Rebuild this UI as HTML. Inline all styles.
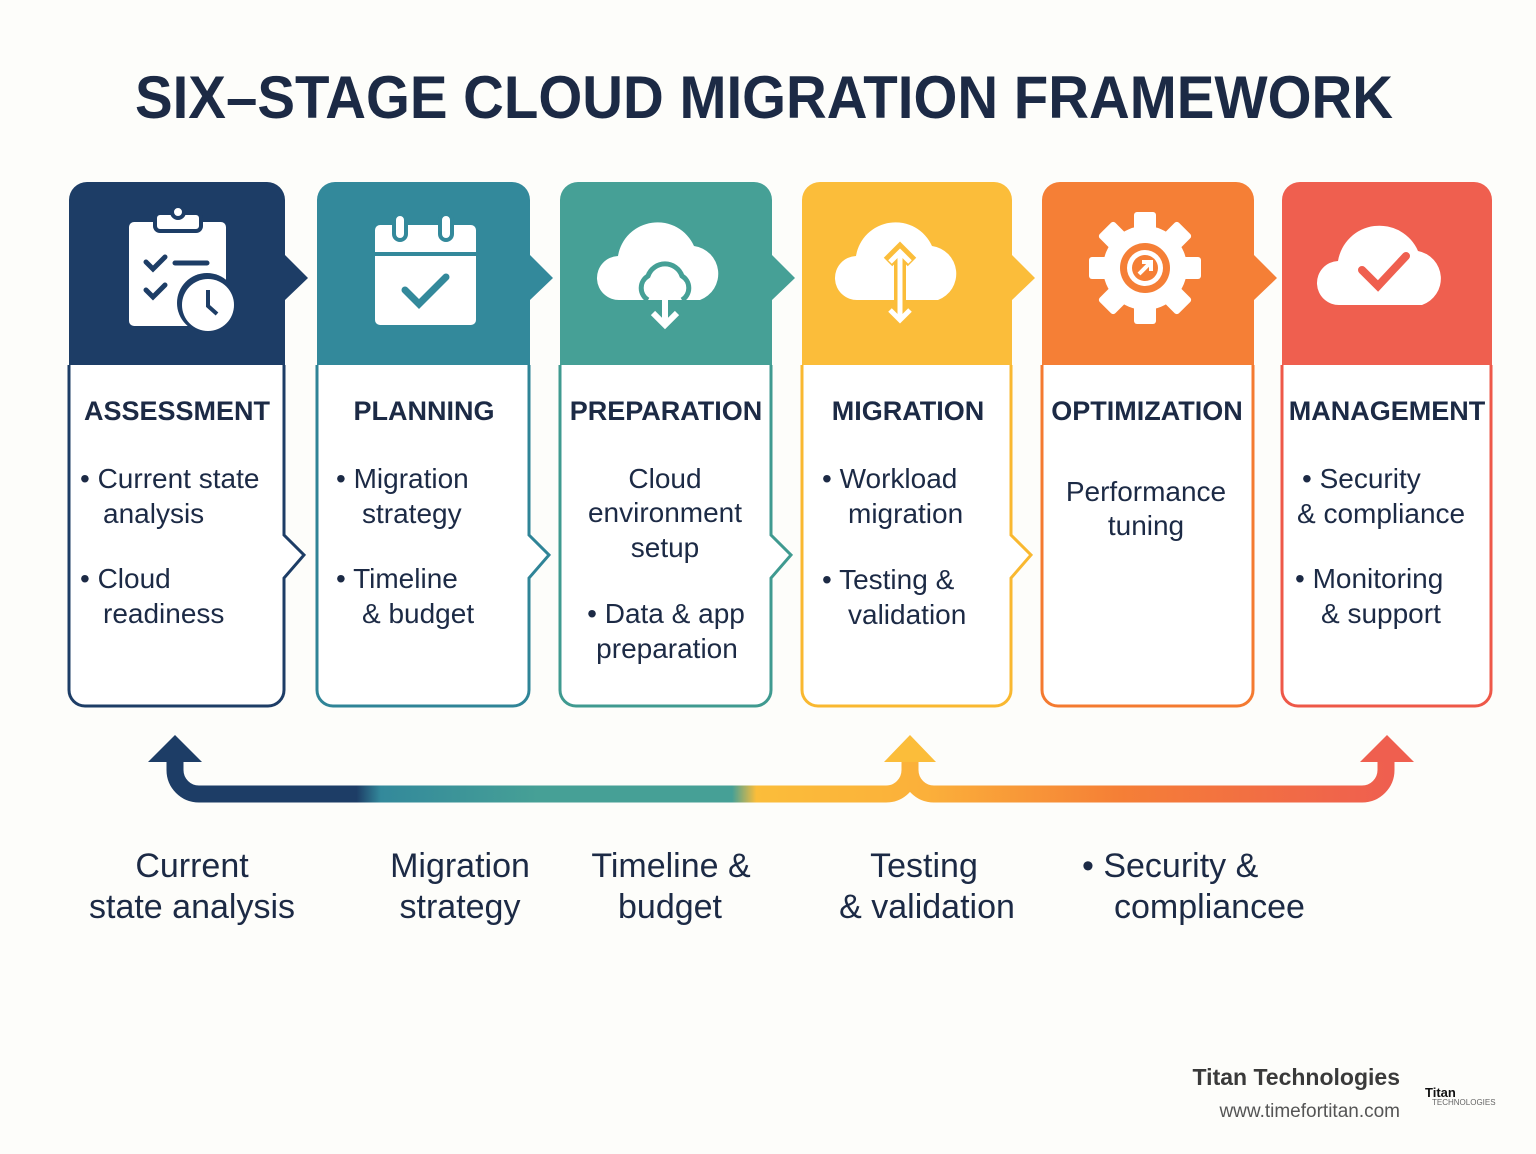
<!DOCTYPE html><html><head><meta charset="utf-8"><style>
body{margin:0;background:#fdfdfa;}
svg{display:block}
text{font-family:"Liberation Sans",sans-serif;}
</style></head><body>
<svg width="1536" height="1154" viewBox="0 0 1536 1154" xmlns="http://www.w3.org/2000/svg">
<defs>
<linearGradient id="g" x1="0" x2="1">
<stop offset="0" stop-color="#1d3d66"/><stop offset="0.15" stop-color="#1d3d66"/><stop offset="0.17" stop-color="#33899b"/><stop offset="0.3" stop-color="#46a096"/><stop offset="0.46" stop-color="#46a096"/><stop offset="0.48" stop-color="#fbbd3a"/><stop offset="0.62" stop-color="#fbb03a"/><stop offset="0.78" stop-color="#f57f36"/><stop offset="1" stop-color="#ef5f4f"/>
</linearGradient>
</defs>
<text x="135" y="118" textLength="1258" lengthAdjust="spacingAndGlyphs" font-size="60" font-weight="bold" fill="#1c2a45">SIX–STAGE CLOUD MIGRATION FRAMEWORK</text>

<g id="cards" stroke-width="3">
<path d="M69,365 V200 a18,18 0 0 1 18,-18 H267 a18,18 0 0 1 18,18 V255 L308,278 L285,300 V365 Z" fill="#1d3d66"/>
<path d="M69,365 V690 a16,16 0 0 0 16,16 H268 a16,16 0 0 0 16,-16 V578 L304,555 L284,535 V365" fill="#fff" stroke="#1d3d66"/>
<path d="M317,365 V200 a18,18 0 0 1 18,-18 H512 a18,18 0 0 1 18,18 V255 L553,278 L530,300 V365 Z" fill="#33899b"/>
<path d="M317,365 V690 a16,16 0 0 0 16,16 H513 a16,16 0 0 0 16,-16 V578 L549,555 L529,535 V365" fill="#fff" stroke="#2f8497"/>
<path d="M560,365 V200 a18,18 0 0 1 18,-18 H754 a18,18 0 0 1 18,18 V255 L795,278 L772,300 V365 Z" fill="#46a096"/>
<path d="M560,365 V690 a16,16 0 0 0 16,16 H755 a16,16 0 0 0 16,-16 V578 L791,555 L771,535 V365" fill="#fff" stroke="#3f9a90"/>
<path d="M802,365 V200 a18,18 0 0 1 18,-18 H994 a18,18 0 0 1 18,18 V255 L1035,278 L1012,300 V365 Z" fill="#fbbd3a"/>
<path d="M802,365 V690 a16,16 0 0 0 16,16 H995 a16,16 0 0 0 16,-16 V578 L1031,555 L1011,535 V365" fill="#fff" stroke="#f9b830"/>
<path d="M1042,365 V200 a18,18 0 0 1 18,-18 H1236 a18,18 0 0 1 18,18 V255 L1277,278 L1254,300 V365 Z" fill="#f57f36"/>
<path d="M1042,365 V690 a16,16 0 0 0 16,16 H1237 a16,16 0 0 0 16,-16 V365" fill="#fff" stroke="#f47a30"/>
<path d="M1282,365 V200 a18,18 0 0 1 18,-18 H1474 a18,18 0 0 1 18,18 V365 Z" fill="#ef5f4f"/>
<path d="M1282,365 V690 a16,16 0 0 0 16,16 H1475 a16,16 0 0 0 16,-16 V365" fill="#fff" stroke="#ee5848"/>
</g>

<g fill="#fff">
<rect x="129" y="222" width="97" height="104" rx="5"/>
<rect x="155" y="213" width="46" height="18" rx="5" fill="#fff" stroke="#1d3d66" stroke-width="4"/>
<circle cx="178" cy="212" r="6" fill="#fff" stroke="#1d3d66" stroke-width="4"/>
<g stroke="#1d3d66" stroke-width="5" fill="none" stroke-linecap="round"><path d="M146,262 l7,7 l12,-12 M146,290 l7,7 l12,-12 M175,263 h32"/></g>
<circle cx="207" cy="303" r="30" fill="#1d3d66"/><circle cx="208" cy="305" r="26"/>
<path d="M208,290 v16 l9,8" stroke="#1d3d66" stroke-width="4" fill="none"/>
<rect x="375" y="225" width="101" height="100" rx="5"/>
<rect x="375" y="252" width="101" height="4" fill="#33899b"/>
<rect x="394" y="214" width="12" height="26" rx="6" stroke="#33899b" stroke-width="4"/>
<rect x="440" y="214" width="12" height="26" rx="6" stroke="#33899b" stroke-width="4"/>
<path d="M405,290 l14,14 l27,-27" stroke="#33899b" stroke-width="7" fill="none" stroke-linecap="round"/>
<path d="M620,300 a22,22 0 0 1 -2,-44 a40,40 0 0 1 76,-10 a28,28 0 0 1 6,54 Z"/>
<path d="M648,300 a14,14 0 0 1 0,-24 a18,18 0 0 1 34,0 a14,14 0 0 1 0,24" fill="none" stroke="#46a096" stroke-width="5"/>
<path d="M665,285 v40 M653,313 l12,12 l12,-12" stroke="#fff" stroke-width="6" fill="none"/>
<path d="M858,300 a22,22 0 0 1 -2,-44 a40,40 0 0 1 76,-10 a28,28 0 0 1 6,54 Z"/>
<path d="M900,250 v72 M888,262 l12,-12 l12,12 M888,310 l12,12 l12,-12" stroke="#fbbd3a" stroke-width="12" fill="none"/>
<path d="M900,252 v68 M890,262 l10,-10 l10,10 M890,310 l10,10 l10,-10" stroke="#fff" stroke-width="5" fill="none"/>
<g transform="translate(1145,268)"><circle r="42"/><g><rect x="-11" y="-56" width="22" height="24" rx="3"/><rect x="-11" y="32" width="22" height="24" rx="3"/><rect x="-56" y="-11" width="24" height="22" rx="3"/><rect x="32" y="-11" width="24" height="22" rx="3"/>
<g transform="rotate(45)"><rect x="-11" y="-56" width="22" height="24" rx="3"/><rect x="-11" y="32" width="22" height="24" rx="3"/><rect x="-56" y="-11" width="24" height="22" rx="3"/><rect x="32" y="-11" width="24" height="22" rx="3"/></g></g>
<circle r="25" fill="#f57f36"/><circle r="18"/><circle r="13" fill="#f57f36"/><path d="M-6,6 l10,-10 M-3,-6 h9 v9" stroke="#fff" stroke-width="4" fill="none"/></g>
<path d="M1340,305 a22,22 0 0 1 -2,-44 a42,42 0 0 1 80,-10 a28,28 0 0 1 4,54 Z"/>
<path d="M1362,270 l16,16 l28,-30" stroke="#ef5f4f" stroke-width="8" fill="none" stroke-linecap="round"/>
</g>

<g font-weight="bold" font-size="27" fill="#1c2a45" text-anchor="middle">
<text x="177" y="420">ASSESSMENT</text><text x="424" y="420">PLANNING</text><text x="666" y="420">PREPARATION</text><text x="908" y="420">MIGRATION</text><text x="1147" y="420">OPTIMIZATION</text><text x="1387" y="420">MANAGEMENT</text>
</g>
<g font-size="28" fill="#1c2a45">
<text x="80" y="488">• Current state</text><text x="103" y="523">analysis</text>
<text x="80" y="588">• Cloud</text><text x="103" y="623">readiness</text>
<text x="336" y="488">• Migration</text><text x="362" y="523">strategy</text>
<text x="336" y="588">• Timeline</text><text x="362" y="623">&amp; budget</text>
<g text-anchor="middle"><text x="665" y="488">Cloud</text><text x="665" y="522">environment</text><text x="665" y="557">setup</text>
<text x="666" y="623">• Data &amp; app</text><text x="667" y="658">preparation</text>
<text x="1146" y="501">Performance</text><text x="1146" y="535">tuning</text></g>
<text x="822" y="488">• Workload</text><text x="848" y="523">migration</text>
<text x="822" y="589">• Testing &amp;</text><text x="848" y="624">validation</text>
<text x="1302" y="488">• Security</text><text x="1297" y="523">&amp; compliance</text>
<text x="1295" y="588">• Monitoring</text><text x="1321" y="623">&amp; support</text>
</g>

<path d="M175,755 V770 a24,24 0 0 0 24,24 H886 a24,24 0 0 0 24,-24 V755 M910,770 a24,24 0 0 0 24,24 H1362 a24,24 0 0 0 24,-24 V755" fill="none" stroke="url(#g)" stroke-width="17"/>
<path d="M148,762 L175,735 L202,762 Z" fill="#1d3d66"/>
<path d="M884,762 L910,735 L936,762 Z" fill="#fbbd3a"/>
<path d="M1360,762 L1387,735 L1414,762 Z" fill="#ef5f4f"/>

<g font-size="34" fill="#1c2a45" text-anchor="middle">
<text x="192" y="877">Current</text><text x="192" y="918">state analysis</text>
<text x="460" y="877">Migration</text><text x="460" y="918">strategy</text>
<text x="671" y="877">Timeline &amp;</text><text x="670" y="918">budget</text>
<text x="924" y="877">Testing</text><text x="927" y="918">&amp; validation</text>
</g>
<g font-size="34" fill="#1c2a45"><text x="1082" y="877">•  Security &amp;</text><text x="1114" y="918">compliancee</text></g>

<text x="1400" y="1085" text-anchor="end" font-size="23" font-weight="bold" fill="#3a3a3a">Titan Technologies</text>
<text x="1400" y="1117" text-anchor="end" font-size="19" fill="#555">www.timefortitan.com</text>
<text x="1425" y="1097" font-size="13" font-weight="bold" fill="#111">Titan</text>
<text x="1432" y="1105" font-size="8" fill="#666">TECHNOLOGIES</text>
</svg>
</body></html>
